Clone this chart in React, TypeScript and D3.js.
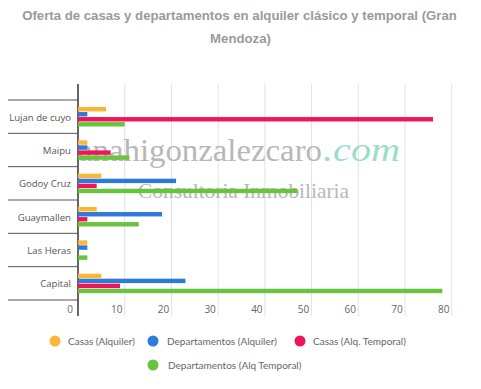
import React from 'react';
import * as d3 from 'd3';

const categories = ['Lujan de cuyo', 'Maipu', 'Godoy Cruz', 'Guaymallen', 'Las Heras', 'Capital'];
const seriesNames = ['Casas (Alquiler)', 'Departamentos (Alquiler)', 'Casas (Alq. Temporal)', 'Departamentos (Alq Temporal)'];
const casasAlquiler = [6, 2, 5, 4, 2, 5];
const deptosAlquiler = [2, 2, 21, 18, 2, 23];
const casasTemporal = [76, 7, 4, 2, 0, 9];
const deptosTemporal = [10, 11, 47, 13, 2, 78];
const xTicks = [0, 10, 20, 30, 40, 50, 60, 70, 80];
const colors = ['#fbb637', '#2e7ad9', '#f0145a', '#68c43c'];

const W = 481;
const H = 389;
const left = 78;
const right = 451.7;
const top = 100;
const bottom = 300;

const App = () => {
  const series = [casasAlquiler, deptosAlquiler, casasTemporal, deptosTemporal];
  const x = d3.scaleLinear().domain([0, 80]).range([left, right]);
  const y = d3.scaleBand().domain(categories).range([top, bottom]);
  const inner = d3.scaleBand<number>().domain([0, 1, 2, 3]).range([7, 26.5]).paddingInner(0.12);

  const legendItems = [
    { cx: 55, cy: 341, tx: 68 },
    { cx: 153, cy: 341, tx: 167 },
    { cx: 300, cy: 341, tx: 313 },
    { cx: 153, cy: 365, tx: 168 },
  ];

  return (
    <svg width={W} height={H} style={{ position: 'absolute', left: 0, top: 0, background: '#fff' }}>
      <g fontFamily="'Liberation Sans', Arial, sans-serif" fontWeight="bold" fontSize={13.2} fill="#9a9a9a" textAnchor="middle">
        <text x={W / 2 - 1} y={20}>Oferta de casas y departamentos en alquiler clásico y temporal (Gran</text>
        <text x={W / 2} y={43}>Mendoza)</text>
      </g>

      {xTicks.map(t => (
        <line key={t} x1={x(t)} x2={x(t)} y1={84} y2={316} stroke={t === 0 ? '#333' : '#e3e3e3'} strokeWidth={t === 0 ? 1.5 : 1} />
      ))}
      {d3.range(categories.length + 1).map(i => {
        const yy = top + i * y.step();
        return <line key={i} x1={8} x2={left} y1={yy} y2={yy} stroke="#555" strokeWidth={1} />;
      })}

      {/* marca de agua */}
      <g opacity={0.7} fontFamily="'Liberation Serif', 'Times New Roman', serif">
        <text x={78} y={161} fontSize={31} fill="#999" textLength={244} lengthAdjust="spacingAndGlyphs">anahigonzalezcaro</text>
        <text x={323} y={161} fontSize={34} fontStyle="italic" fill="#6fd2b2" textLength={77} lengthAdjust="spacingAndGlyphs">.com</text>
        <text x={138} y={198} fontSize={21} fill="#999" textLength={211} lengthAdjust="spacingAndGlyphs">Consultoria Inmobiliaria</text>
      </g>

      {categories.map((c, ci) => (
        <g key={c} transform={`translate(0,${y(c)})`}>
          {series.map((s, si) => (
            <rect key={si} x={x(0)} y={inner(si)} width={x(s[ci]) - x(0)} height={inner.bandwidth()} fill={colors[si]} />
          ))}
          <text x={71} y={y.bandwidth() / 2 + 4} textAnchor="end" fontFamily="'Open Sans', sans-serif" fontSize={9.6} fill="#555">{c}</text>
        </g>
      ))}

      {xTicks.map(t => (
        <text key={t} x={x(t) - 8} y={313} textAnchor="middle" fontFamily="'Open Sans', sans-serif" fontSize={10} fill="#666">{t}</text>
      ))}

      {seriesNames.map((n, i) => (
        <g key={n}>
          <circle cx={legendItems[i].cx} cy={legendItems[i].cy} r={5.5} fill={colors[i]} />
          <text x={legendItems[i].tx} y={legendItems[i].cy + 3.5} fontFamily="Lato, sans-serif" fontSize={10} fill="#666">{n}</text>
        </g>
      ))}
    </svg>
  );
};

export default App;
